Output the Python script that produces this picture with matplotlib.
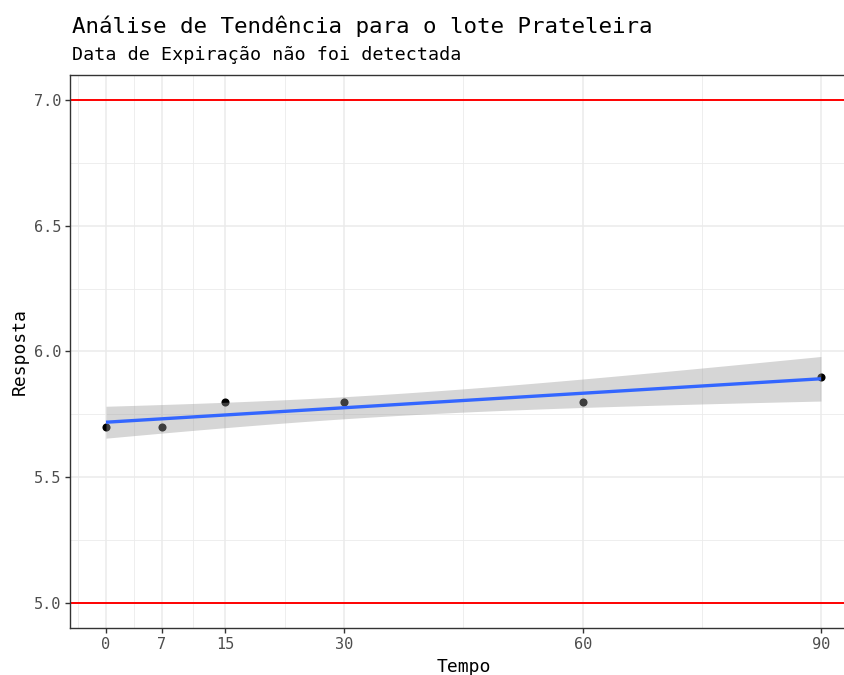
import numpy as np
import matplotlib
matplotlib.use("Agg")
import matplotlib.pyplot as plt

# ---- data ----
tempo = [0, 7, 15, 30, 60, 90]
resposta = [5.7, 5.7, 5.8, 5.8, 5.8, 5.9]
x_breaks = [0, 7, 15, 30, 60, 90]
x_minor = [-3.5, 3.5, 11, 22.5, 45, 75]
y_breaks = [5.0, 5.5, 6.0, 6.5, 7.0]
y_minor = [5.25, 5.75, 6.25, 6.75]
limits = [5.0, 7.0]
title = "Análise de Tendência para o lote Prateleira"
subtitle = "Data de Expiração não foi detectada"
T_975_DF4 = 2.776  # t quantile for 95% CI with n-2 = 4 df

plt.rcParams['font.family'] = ['DejaVu Sans Mono', 'DejaVu Sans']

x = np.array(tempo, dtype=float)
y = np.array(resposta, dtype=float)
slope, intercept = np.polyfit(x, y, 1)
xs = np.linspace(x.min(), x.max(), 80)
fit = intercept + slope * xs
resid = y - (intercept + slope * x)
n = len(x)
s = np.sqrt(np.sum(resid ** 2) / (n - 2))
sxx = np.sum((x - x.mean()) ** 2)
se = s * np.sqrt(1.0 / n + (xs - x.mean()) ** 2 / sxx)
lo = fit - T_975_DF4 * se
hi = fit + T_975_DF4 * se

W, H = 845, 675
fig = plt.figure(figsize=(W / 100, H / 100), dpi=100)
left_px, right_px, top_px, bot_px = 70.25, 856.7, 75, 628
ax = fig.add_axes([left_px / W, 1 - bot_px / H, (right_px - left_px) / W, (bot_px - top_px) / H])
ax.set_xlim(-4.5, 94.5)
ax.set_ylim(4.9, 7.1)

# grid
for v in x_minor:
    ax.axvline(v, color='#EBEBEB', lw=0.6, zorder=0)
for v in y_minor:
    ax.axhline(v, color='#EBEBEB', lw=0.6, zorder=0)
for v in x_breaks:
    ax.axvline(v, color='#EBEBEB', lw=1.1, zorder=0)
for v in y_breaks:
    ax.axhline(v, color='#EBEBEB', lw=1.1, zorder=0)

# limits
for v in limits:
    ax.axhline(v, color='#FF0000', lw=1.4, zorder=1)

# points
ax.scatter(x, y, s=34, color='black', zorder=2, linewidths=0)
# band + fit
ax.fill_between(xs, lo, hi, color='#999999', alpha=0.4, lw=0, zorder=3)
ax.plot(xs, fit, color='#3366FF', lw=2.4, zorder=4, solid_capstyle='butt')

ax.set_xticks(x_breaks)
ax.set_xticklabels([str(v) for v in x_breaks])
ax.set_yticks(y_breaks)
ax.set_yticklabels([f"{v:.1f}" for v in y_breaks])
ax.tick_params(axis='both', length=3.5, width=1.0, color='#333333',
               labelcolor='#4D4D4D', labelsize=11, pad=3)
for sp in ax.spines.values():
    sp.set_color('#333333')
    sp.set_linewidth(1.0)
ax.spines['right'].set_visible(False)

ax.set_xlabel("Tempo", fontsize=13, color='black', labelpad=4)
ax.set_ylabel("Resposta", fontsize=13, color='black', labelpad=4)

fig.text(72 / W, 1 - 33 / H, title, fontsize=16.2, color='black', ha='left', va='baseline')
fig.text(72 / W, 1 - 60 / H, subtitle, fontsize=13.2, color='black', ha='left', va='baseline')

fig.savefig("out.png", dpi=100, facecolor='white')
